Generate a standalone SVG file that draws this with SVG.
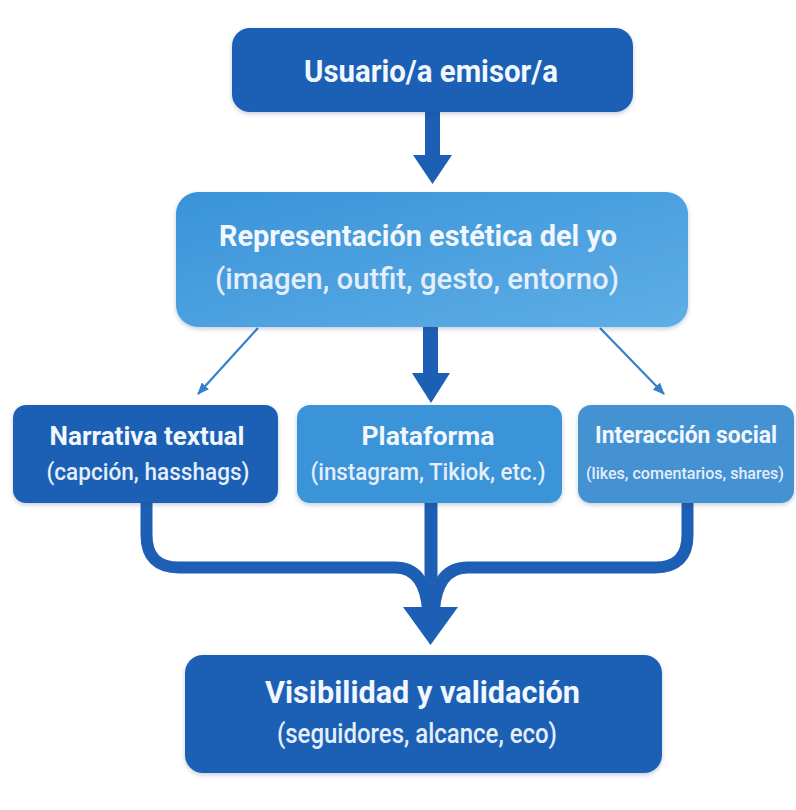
<svg xmlns="http://www.w3.org/2000/svg" width="796" height="810" viewBox="0 0 796 810">
  <defs>
    <linearGradient id="gLight" x1="0" y1="0" x2="1" y2="1">
      <stop offset="0" stop-color="#3a93d8"/>
      <stop offset="1" stop-color="#5eaee6"/>
    </linearGradient>
    <filter id="sh" x="-10%" y="-10%" width="120%" height="130%">
      <feDropShadow dx="0" dy="2" stdDeviation="2" flood-color="#1a3f70" flood-opacity="0.25"/>
    </filter>
    <marker id="thinHead" viewBox="0 0 12 10" refX="11" refY="5" markerWidth="12" markerHeight="10" markerUnits="userSpaceOnUse" orient="auto">
      <path d="M0,0 L12,5 L0,10 Z" fill="#3580c9"/>
    </marker>
    <style>
      .dark { fill: #1d61b6; filter: url(#sh); }
      .mid { fill: #3a94d7; filter: url(#sh); }
      .soft { fill: #4592d3; filter: url(#sh); }
      .t { font-family: Roboto, "Liberation Sans", sans-serif; fill: #f2f7fd; text-anchor: middle; }
      .b { font-weight: 700; }
      .r { font-weight: 500; fill: #e4eefa; }
      .conn { fill: none; stroke: #1d5fb4; stroke-width: 12; }
      .thin { fill: none; stroke: #3580c9; stroke-width: 2.2; marker-end: url(#thinHead); }
      .head { fill: #1d5fb4; }
    </style>
  </defs>
  <rect width="796" height="810" fill="#ffffff"/>

  <g id="connectors">
    <rect x="425" y="110" width="15" height="48" fill="#1d5fb4"/>
    <polygon class="head" points="413,155 452,155 432.5,184"/>
    <rect x="423" y="325" width="15" height="50" fill="#1d5fb4"/>
    <polygon class="head" points="412,373 450,373 431,403"/>
    <line class="thin" x1="258" y1="328" x2="198" y2="394"/>
    <line class="thin" x1="600" y1="328" x2="664" y2="394"/>
    <path class="conn" d="M146.5,500 V535 Q146.5,567.5 179,567.5 H395 Q425,567.5 428,610"/>
    <path class="conn" d="M687.5,500 V535 Q687.5,567.5 655,567.5 H468 Q437,567.5 434,610"/>
    <rect x="424.5" y="500" width="13" height="110" fill="#1d5fb4"/>
    <polygon class="head" points="403,607 458,607 430.5,645"/>
  </g>

  <g id="node-usuario">
    <rect class="dark" x="232" y="28" width="401" height="84" rx="18"/>
    <text class="t b" x="431" y="82" font-size="32" textLength="254" lengthAdjust="spacingAndGlyphs">Usuario/a emisor/a</text>
  </g>

  <g id="node-representacion">
    <rect x="176" y="192" width="512" height="135" rx="22" fill="url(#gLight)" filter="url(#sh)"/>
    <text class="t b" x="418" y="246" font-size="30" textLength="398" lengthAdjust="spacingAndGlyphs">Representación estética del yo</text>
    <text class="t r" x="417" y="289" font-size="30" textLength="404" lengthAdjust="spacingAndGlyphs">(imagen, outfit, gesto, entorno)</text>
  </g>

  <g id="node-narrativa">
    <rect class="dark" x="13" y="405" width="265" height="98" rx="13"/>
    <text class="t b" x="147" y="445" font-size="25" textLength="195" lengthAdjust="spacingAndGlyphs">Narrativa textual</text>
    <text class="t r" x="148" y="480" font-size="24" textLength="203" lengthAdjust="spacingAndGlyphs">(capción, hasshags)</text>
  </g>

  <g id="node-plataforma">
    <rect class="mid" x="297" y="405" width="265" height="98" rx="13"/>
    <text class="t b" x="428" y="445" font-size="25" textLength="133" lengthAdjust="spacingAndGlyphs">Plataforma</text>
    <text class="t r" x="428" y="480" font-size="24" textLength="235" lengthAdjust="spacingAndGlyphs">(instagram, Tikiok, etc.)</text>
  </g>

  <g id="node-interaccion">
    <rect class="soft" x="578" y="405" width="216" height="98" rx="13"/>
    <text class="t b" x="686" y="443" font-size="23" textLength="182" lengthAdjust="spacingAndGlyphs">Interacción social</text>
    <text class="t r" x="685" y="479" font-size="17" textLength="198" lengthAdjust="spacingAndGlyphs">(likes, comentarios, shares)</text>
  </g>

  <g id="node-visibilidad">
    <rect class="dark" x="185" y="655" width="477" height="118" rx="18"/>
    <text class="t b" x="422.5" y="703" font-size="32" textLength="315" lengthAdjust="spacingAndGlyphs">Visibilidad y validación</text>
    <text class="t r" x="417" y="743" font-size="28" textLength="280" lengthAdjust="spacingAndGlyphs">(seguidores, alcance, eco)</text>
  </g>
</svg>
